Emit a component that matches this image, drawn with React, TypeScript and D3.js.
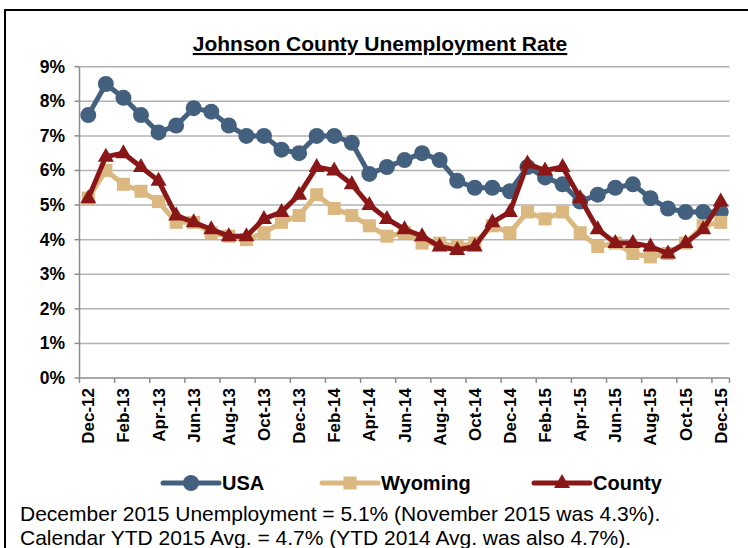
import React from "react";
import * as d3 from "d3";

const months = [
  "Dec-12","Jan-13","Feb-13","Mar-13","Apr-13","May-13","Jun-13","Jul-13","Aug-13","Sep-13","Oct-13","Nov-13",
  "Dec-13","Jan-14","Feb-14","Mar-14","Apr-14","May-14","Jun-14","Jul-14","Aug-14","Sep-14","Oct-14","Nov-14",
  "Dec-14","Jan-15","Feb-15","Mar-15","Apr-15","May-15","Jun-15","Jul-15","Aug-15","Sep-15","Oct-15","Nov-15","Dec-15",
];
const usa = [7.6,8.5,8.1,7.6,7.1,7.3,7.8,7.7,7.3,7.0,7.0,6.6,6.5,7.0,7.0,6.8,5.9,6.1,6.3,6.5,6.3,5.7,5.5,5.5,5.4,6.1,5.8,5.6,5.1,5.3,5.5,5.6,5.2,4.9,4.8,4.8,4.8];
const wyoming = [5.2,6.0,5.6,5.4,5.1,4.5,4.5,4.2,4.1,4.0,4.2,4.5,4.7,5.3,4.9,4.7,4.4,4.1,4.2,3.9,3.9,3.8,3.9,4.4,4.2,4.8,4.6,4.8,4.2,3.8,3.9,3.6,3.5,3.6,3.9,4.4,4.5];
const county = [5.2,6.4,6.5,6.1,5.7,4.7,4.5,4.3,4.1,4.1,4.6,4.8,5.3,6.1,6.0,5.6,5.0,4.6,4.3,4.1,3.8,3.7,3.8,4.5,4.8,6.2,6.0,6.1,5.2,4.3,3.9,3.9,3.8,3.6,3.9,4.3,5.1];
const yTicks = [0,1,2,3,4,5,6,7,8,9];
const title = "Johnson County Unemployment Rate";
const notes = [
  "December 2015 Unemployment = 5.1% (November 2015 was 4.3%).",
  "Calendar YTD 2015 Avg. = 4.7% (YTD 2014 Avg. was also 4.7%).",
];

const C_USA = "#44607f";
const C_WY = "#dbb87f";
const C_CO = "#8a1717";

const left = 79.5, right = 729.5, top = 66.7, bottom = 378;

function Marker({ kind, x, y, color }: { kind: string; x: number; y: number; color: string }) {
  if (kind === "circle") return <circle cx={x} cy={y} r={8} fill={color} />;
  if (kind === "square") return <rect x={x - 6.5} y={y - 6.5} width={13} height={13} fill={color} />;
  return <path d={`M${x},${y - 9}L${x + 8},${y + 5}L${x - 8},${y + 5}Z`} fill={color} />;
}

export default function App() {
  const x = d3.scaleBand<string>().domain(months).range([left, right]);
  const y = d3.scaleLinear().domain([0, 9]).range([bottom, top]);
  const cx = (m: string) => (x(m) as number) + x.bandwidth() / 2;
  const line = d3.line<number>().x((_, i) => cx(months[i])).y((d) => y(d));
  const series = [
    { name: "USA", data: usa, color: C_USA, kind: "circle" },
    { name: "Wyoming", data: wyoming, color: C_WY, kind: "square" },
    { name: "County", data: county, color: C_CO, kind: "triangle" },
  ];
  const legendPos = [{ lx: 163, tx: 222 }, { lx: 322, tx: 381 }, { lx: 534, tx: 593 }];
  const font = "'Liberation Sans', Arial, sans-serif";
  const titleY = 51;
  return (
    <svg width={748} height={548} style={{ position: "absolute", left: 0, top: 0 }} fontFamily={font}>
      <rect x={0} y={0} width={748} height={548} fill="#fff" />
      <rect x={5} y={10} width={800} height={600} fill="none" stroke="#000" strokeWidth={2} />
      <text x={380} y={titleY} textAnchor="middle" fontSize={21} fontWeight="bold" textDecoration="underline">{title}</text>
      {yTicks.map((t) => (
        <g key={t}>
          {t > 0 && <line x1={left} x2={right} y1={y(t)} y2={y(t)} stroke="#b3b3b3" strokeWidth={1.5} />}
          <line x1={left - 5} x2={left} y1={y(t)} y2={y(t)} stroke="#8c8c8c" strokeWidth={1.5} />
          <text x={65} y={y(t) + 6} textAnchor="end" fontSize={17.5} fontWeight="bold">{t}%</text>
        </g>
      ))}
      <line x1={left} x2={left} y1={top} y2={bottom} stroke="#8c8c8c" strokeWidth={1.5} />
      <line x1={left} x2={right} y1={bottom} y2={bottom} stroke="#8c8c8c" strokeWidth={1.5} />
      {months.map((m, i) => i % 2 === 0 ? (
        <g key={m}>
          <line x1={x(m) as number} x2={x(m) as number} y1={bottom} y2={bottom + 5} stroke="#8c8c8c" strokeWidth={1.5} />
          <text transform={`translate(${cx(m) + 6},${bottom + 10}) rotate(-90)`} textAnchor="end" fontSize={17} fontWeight="bold">{m}</text>
        </g>
      ) : null)}
      <line x1={right} x2={right} y1={bottom} y2={bottom + 5} stroke="#8c8c8c" strokeWidth={1.5} />
      {series.map((s) => (
        <g key={s.name}>
          <path d={line(s.data) as string} fill="none" stroke={s.color} strokeWidth={5} strokeLinejoin="round" />
          {s.data.map((v, i) => <Marker key={i} kind={s.kind} x={cx(months[i])} y={y(v)} color={s.color} />)}
        </g>
      ))}
      {series.map((s, k) => (
        <g key={"lg" + s.name}>
          <line x1={legendPos[k].lx} x2={legendPos[k].lx + 56} y1={483} y2={483} stroke={s.color} strokeWidth={5} strokeLinecap="round" />
          <Marker kind={s.kind} x={legendPos[k].lx + 28} y={483} color={s.color} />
          <text x={legendPos[k].tx} y={490} fontSize={20} fontWeight="bold">{s.name}</text>
        </g>
      ))}
      {notes.map((n, i) => (
        <text key={i} x={20} y={521 + i * 24} fontSize={21}>{n}</text>
      ))}
    </svg>
  );
}
